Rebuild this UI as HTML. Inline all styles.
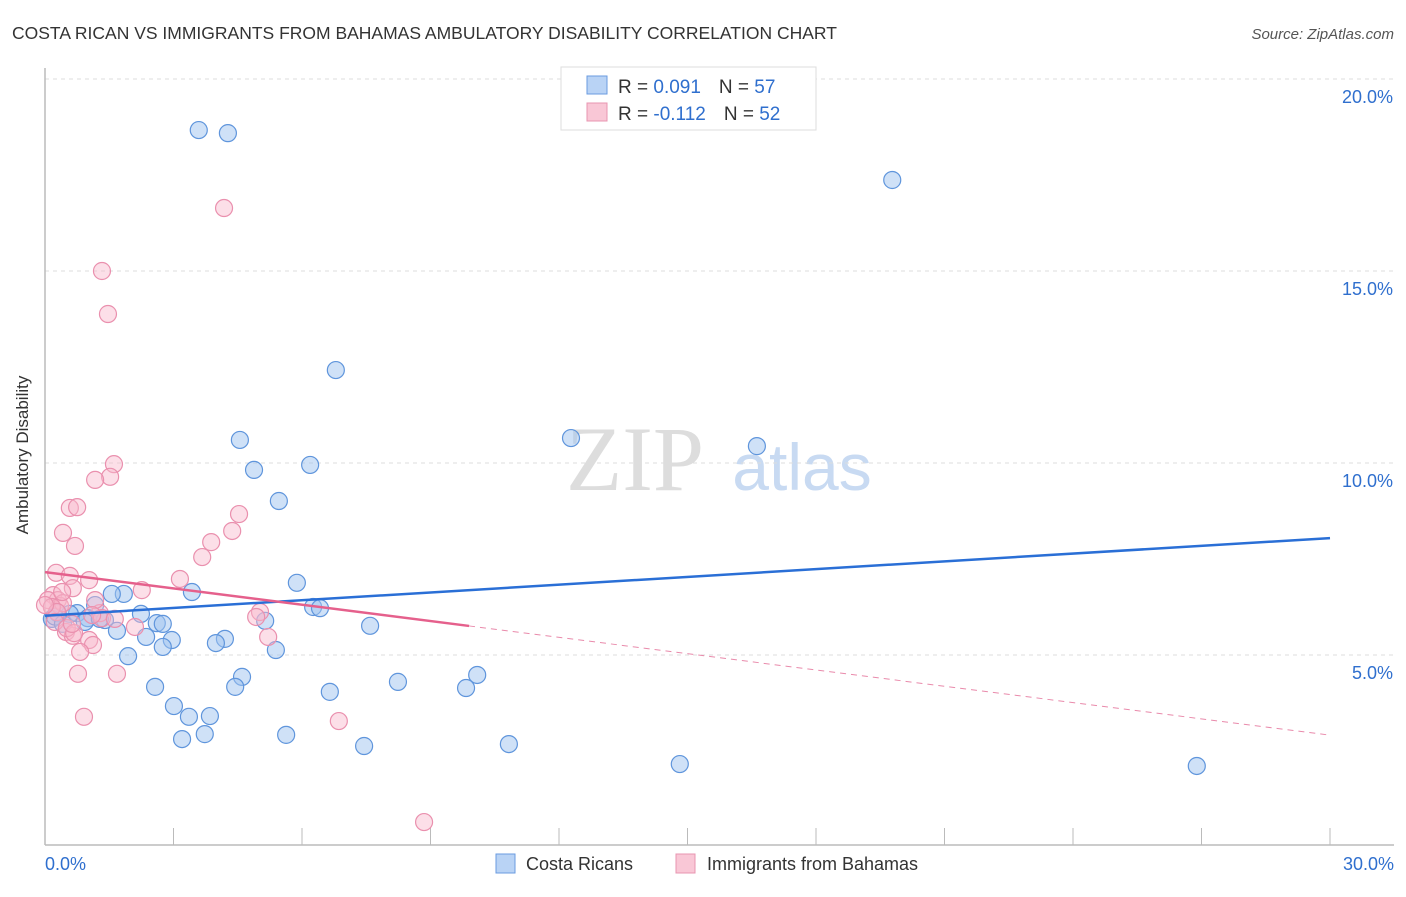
<!DOCTYPE html>
<html><head><meta charset="utf-8"><style>
body{margin:0;background:#fff;font-family:"Liberation Sans",sans-serif}
</style></head><body>
<svg width="1406" height="892" id="c" font-family="Liberation Sans, sans-serif">
<text x="12" y="39" font-size="17.5" fill="#333">COSTA RICAN VS IMMIGRANTS FROM BAHAMAS AMBULATORY DISABILITY CORRELATION CHART</text>
<text x="1394" y="39" font-size="15" fill="#555" font-style="italic" text-anchor="end">Source: ZipAtlas.com</text>
<text x="28" y="455" font-size="17" fill="#333" text-anchor="middle" transform="rotate(-90 28 455)">Ambulatory Disability</text>
<text x="635" y="490" font-size="92" fill="#ddd" font-family="Liberation Serif, serif" text-anchor="middle">ZIP</text>
<text x="802" y="490" font-size="66" fill="#c8daf2" text-anchor="middle">atlas</text>
<g id="grid"></g><g id="pts"></g><g id="trend"></g>
<g>
<rect x="561" y="67" width="255" height="63" fill="#fff" stroke="#ddd"/>
<rect x="587" y="76" width="20" height="18" fill="#b9d3f5" stroke="#6a9be0"/>
<rect x="587" y="103" width="20" height="18" fill="#f9c7d6" stroke="#e895b0"/>
<text x="618" y="93" font-size="19" fill="#333">R = <tspan fill="#2f6fce">0.091</tspan><tspan dx="18">N = </tspan><tspan fill="#2f6fce">57</tspan></text>
<text x="618" y="120" font-size="19" fill="#333">R = <tspan fill="#2f6fce">-0.112</tspan><tspan dx="18">N = </tspan><tspan fill="#2f6fce">52</tspan></text>
</g>
<g>
<rect x="496" y="854" width="19" height="19" fill="#b9d3f5" stroke="#6a9be0"/>
<text x="526" y="870" font-size="18" fill="#333">Costa Ricans</text>
<rect x="676" y="854" width="19" height="19" fill="#f9c7d6" stroke="#e895b0"/>
<text x="707" y="870" font-size="18" fill="#333">Immigrants from Bahamas</text>
</g>
</svg>
<script>
const yTicks=[5,10,15,20];
const yTickLabels=["5.0%","10.0%","15.0%","20.0%"];
const xTickLabels=["0.0%","30.0%"];
const blueX=[3.59,4.27,19.78,6.79,4.55,12.28,16.62,4.88,6.19,5.46,5.88,3.43,1.84,1.56,1.17,0.75,2.24,6.26,6.42,0.16,0.30,1.00,1.40,1.68,2.61,2.75,5.14,7.59,4.20,2.36,2.96,3.99,2.75,1.94,5.39,4.60,2.57,4.44,6.65,8.24,9.83,10.09,3.01,3.36,3.85,3.20,3.73,5.63,7.45,10.83,14.82,26.89,0.58,0.23,0.93,0.42,1.28];
const blueY=[18.67,18.59,17.37,12.42,10.60,10.65,10.44,9.82,9.95,9.01,6.88,6.64,6.59,6.59,6.30,6.09,6.07,6.25,6.22,5.94,6.09,5.96,5.91,5.63,5.83,5.81,5.89,5.76,5.42,5.47,5.39,5.31,5.21,4.97,5.13,4.43,4.17,4.17,4.04,4.30,4.14,4.48,3.67,3.39,3.41,2.81,2.94,2.92,2.63,2.68,2.16,2.11,6.07,6.00,5.86,5.81,5.94];
const pinkX=[4.18,1.33,1.47,1.61,1.52,1.17,0.58,0.75,0.42,0.70,4.53,4.37,3.88,3.67,3.15,0.26,0.58,1.03,2.26,0.65,0.19,0.30,0.07,0.35,0.42,0.16,0.28,1.28,5.02,4.93,0.49,1.03,0.65,1.12,0.82,2.10,5.21,0.77,1.68,0.91,6.86,8.85,1.17,1.33,0.23,0.00,0.40,0.51,0.68,0.63,1.63,1.10];
const pinkY=[16.64,15.0,13.88,9.97,9.64,9.56,8.83,8.85,8.18,7.84,8.67,8.23,7.94,7.55,6.98,7.14,7.06,6.95,6.69,6.74,6.56,6.43,6.43,6.28,6.35,6.25,6.12,6.09,6.12,5.99,5.6,5.39,5.5,5.26,5.08,5.73,5.47,4.51,4.51,3.39,3.28,0.65,6.43,5.96,5.86,6.30,6.64,5.70,5.57,5.81,5.94,6.04];
const xMin=0,xMax=30,yMax=20;
const X0=45,X1=1330,Y0=847,YS=192/5;
const sx=v=>X0+(v-xMin)/(xMax-xMin)*(X1-X0);
const sy=v=>Y0-v*YS;
const NS="http://www.w3.org/2000/svg";
function mk(t,a,p){const e=document.createElementNS(NS,t);for(const k in a)e.setAttribute(k,a[k]);p.appendChild(e);return e;}
const g=document.getElementById('grid');
yTicks.forEach((t,i)=>{
 const l=mk('line',{x1:45,x2:1394,y1:sy(t),y2:sy(t),stroke:'#ddd','stroke-dasharray':'4 4'},g);
 
 
 const tx=mk('text',{x:1393,y:sy(t)+24,'font-size':18,fill:'#2f6fce','text-anchor':'end'},g);
 tx.textContent=yTickLabels[i];
 
 
});
const ax=mk('line',{x1:45,x2:1394,y1:845,y2:845,stroke:'#bbb','stroke-width':1.5},g);


const ay=mk('line',{x1:45,x2:45,y1:68,y2:845,stroke:'#bbb','stroke-width':1.5},g);


for(let i=1;i<=10;i++){
 const t=mk('line',{x1:sx(i*3),x2:sx(i*3),y1:828,y2:845,stroke:'#bbb'},g);
 
 
}
[[0,'start',45],[30,'end',1394]].forEach((d,i)=>{
 const tx=mk('text',{x:d[2],y:870,'font-size':18,fill:'#2f6fce','text-anchor':d[1]},g);
 tx.textContent=xTickLabels[i];
 
 
});
const p=document.getElementById('pts');
blueX.forEach((x,i)=>{
 const c=mk('circle',{cx:sx(x),cy:sy(blueY[i]),r:8.5,fill:'rgba(160,195,240,0.5)',stroke:'#5f95dc','stroke-width':1.2},p);
 
 
});
pinkX.forEach((x,i)=>{
 const c=mk('circle',{cx:sx(x),cy:sy(pinkY[i]),r:8.5,fill:'rgba(248,185,205,0.45)',stroke:'#ea90ae','stroke-width':1.2},p);
 
 
});
const tr=document.getElementById('trend');
function fit(xs,ys){const n=xs.length;const mx=xs.reduce((a,b)=>a+b)/n,my=ys.reduce((a,b)=>a+b)/n;let sxy=0,sxx=0;xs.forEach((x,i)=>{sxy+=(x-mx)*(ys[i]-my);sxx+=(x-mx)*(x-mx)});const b=sxy/sxx;return [my-b*mx,b];}
const [ba,bb]=fit(blueX,blueY),[pa,pb]=fit(pinkX,pinkY);
const bl=mk('line',{x1:sx(0),y1:sy(ba),x2:sx(30),y2:sy(ba+bb*30),stroke:'#2a6fd6','stroke-width':2.5},tr);


const pl=mk('line',{x1:sx(0),y1:sy(pa),x2:sx(9.9),y2:sy(pa+pb*9.9),stroke:'#e5608c','stroke-width':2.5},tr);


const pd=mk('line',{x1:sx(9.9),y1:sy(pa+pb*9.9),x2:sx(30),y2:sy(pa+pb*30),stroke:'#e98aab','stroke-width':1,'stroke-dasharray':'6 5'},tr);


</script>
</body></html>
